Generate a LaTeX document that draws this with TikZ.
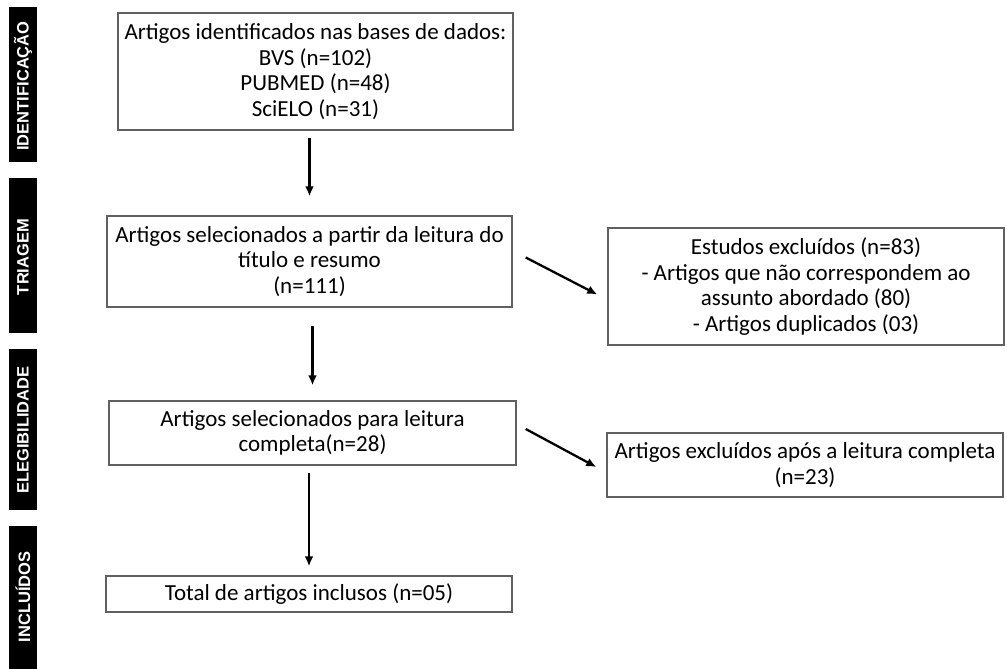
\documentclass[tikz,border=0pt]{standalone}
\usepackage{fontspec}
\setmainfont{Carlito}
\newfontfamily\barfont{Liberation Sans}
\usetikzlibrary{arrows.meta,calc}
\definecolor{boxgray}{HTML}{606060}
\tikzset{%
  stage/.style={fill=black,text=white,rotate=90,inner sep=0pt,
    font=\barfont\bfseries\fontsize{16.5}{16.5}\selectfont},
  stepbox/.style={draw=boxgray,line width=1.5pt,align=center,inner sep=0pt,
    minimum width=#1,font=\fontsize{23}{25.5}\selectfont},
  stepbox/.default=396pt,
  flow/.style={line width=2.3pt,-{Latex[length=10pt,width=9pt]}}
}
\begin{document}
\begin{tikzpicture}[x=1pt,y=-1pt]
    \useasboundingbox (0,0) rectangle (1007,669);

    % stage bars on the left
    \fill (9,7) rectangle (37,162);
    \fill (9,178) rectangle (37,333);
    \fill (9,349) rectangle (37,510);
    \fill (9,526) rectangle (37,669);
    \node[stage] (sIdent) at (23,86) {IDENTIFICAÇÃO};
    \node[stage] (sTriag) at (23,257) {TRIAGEM};
    \node[stage] (sEleg) at (23,430) {ELEGIBILIDADE};
    \node[stage] (sIncl) at (23,597) {INCLUÍDOS};

    % boxes
    \node[stepbox=395pt,minimum height=117pt] (ident) at (315.5,71.5)
        {Artigos identificados nas bases de dados:\\BVS (n=102)\\PUBMED (n=48)\\SciELO (n=31)};
    \node[stepbox=405pt,minimum height=91pt] (triag) at (309.5,261.5)
        {Artigos selecionados a partir da leitura do\\título e resumo\\(n=111)};
    \node[stepbox=396pt,minimum height=117pt] (excl) at (806,286.5)
        {Estudos excluídos (n=83)\\- Artigos que não correspondem ao\\assunto abordado (80)\\- Artigos duplicados (03)};
    \node[stepbox=407pt,minimum height=64pt] (eleg) at (312.5,433)
        {Artigos selecionados para leitura\\completa(n=28)};
    \node[stepbox=396pt,minimum height=64pt] (exclfull) at (805,465)
        {Artigos excluídos após a leitura completa\\(n=23)};
    \node[stepbox=406pt,minimum height=36pt] (incl) at (309,594)
        {Total de artigos inclusos (n=05)};

    % arrows
    \draw[flow,shorten <=7pt,shorten >=19pt] (ident.south -| triag.north) -- (triag.north);
    \draw[flow,shorten <=18pt,shorten >=15pt] (triag.south -| eleg.north) -- (eleg.north);
    \draw[flow,shorten <=7pt,shorten >=9pt] (eleg.south -| incl.north) -- (incl.north);
    \draw[flow] ($(triag.east)+(13,-4)$) -- ($(excl.west)+(-10,8)$);
    \draw[flow] ($(eleg.east)+(9,-4)$) -- ($(exclfull.west)+(-10,2)$);

\end{tikzpicture}
\end{document}
